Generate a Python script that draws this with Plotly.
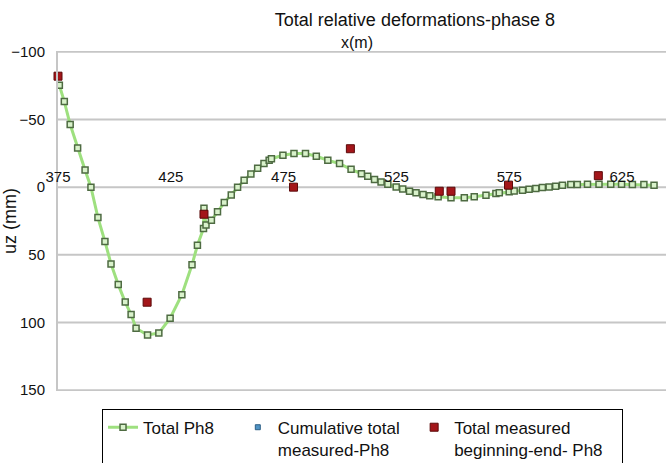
import plotly.graph_objects as go

# ---- data ----
total_x = [375.6, 377.8, 380.4, 383.7, 387.0, 389.6, 392.7, 395.8, 398.5, 401.7,
           404.8, 407.4, 409.6, 414.7, 419.7, 424.7, 429.9, 434.4, 436.8, 439.5,
           439.7, 440.6, 443.0, 445.7, 448.7, 451.8, 454.6, 457.5, 460.5, 463.5,
           466.3, 468.6, 469.6, 474.7, 479.6, 484.7, 489.5, 494.6, 499.8, 504.9,
           509.5, 512.3, 515.3, 518.2, 521.2, 524.9, 527.8, 530.8, 533.7, 536.8,
           539.8, 543.5, 549.2, 555.1, 559.5, 564.7, 569.1, 570.6, 575.0, 577.2,
           580.9, 583.8, 586.8, 589.7, 592.7, 595.6, 598.6, 602.3, 605.2, 609.7,
           614.8, 620.0, 624.8, 629.6, 634.7, 639.2]
total_y = [-75.3, -63.2, -46.3, -28.9, -12.7, 0.0, 22.5, 40.1, 56.7, 72.0,
           84.9, 94.1, 104.3, 109.2, 107.8, 96.8, 79.4, 57.4, 42.9, 30.5,
           15.5, 28.0, 24.5, 18.2, 11.4, 5.7, 0.0, -5.1, -9.8, -14.0,
           -17.5, -19.9, -21.0, -23.6, -24.8, -24.8, -22.8, -19.9, -17.4, -13.2,
           -10.0, -8.1, -5.6, -3.9, -2.2, -0.2, 1.3, 3.0, 4.2, 5.5,
           6.4, 7.1, 7.8, 7.8, 7.1, 5.9, 4.6, 4.2, 3.4, 2.9,
           2.2, 1.5, 1.0, 0.2, -0.2, -0.7, -1.5, -2.0, -2.0, -2.2,
           -2.2, -2.2, -2.2, -2.0, -2.0, -1.5]

cumul_x = [439.7, 504.9]
cumul_y = [15.5, -13.2]

meas_x = [375.0, 414.5, 439.7, 479.4, 504.6, 544.0, 549.2, 574.7, 614.5]
meas_y = [-82.0, 85.0, 20.0, 0.0, -28.4, 3.0, 3.0, -1.5, -8.5]

x_ticks = [375, 425, 475, 525, 575, 625]
y_ticks = [-100, -50, 0, 50, 100, 150]
x_range = [375, 644.5]
y_range = [150.6, -100.6]

NB = "\u00a0"
FONT = "Liberation Sans, Arial, sans-serif"
GRID = "#c6c6c6"

fig = go.Figure()

fig.add_trace(go.Scatter(
    x=cumul_x, y=cumul_y, mode="markers",
    name="Cumulative total" + NB * 2 + "<br>measured-Ph8",
    marker=dict(symbol="square", size=5, color="#4f93c4",
                line=dict(color="#2d5f86", width=1)),
    legendrank=2))

fig.add_trace(go.Scatter(
    x=total_x, y=total_y, mode="lines+markers", name="Total Ph8" + NB * 4,
    line=dict(color="#9ee07f", width=3),
    marker=dict(symbol="square", size=6, color="#d9f2cb",
                line=dict(color="#4e6b42", width=1.5)),
    legendrank=1))

fig.add_trace(go.Scatter(
    x=meas_x, y=meas_y, mode="markers",
    name="Total measured<br>beginning-end- Ph8" + NB * 3,
    marker=dict(symbol="square", size=8, color="#a3161a",
                line=dict(color="#5c0a0a", width=1)),
    cliponaxis=False, legendrank=3))

# horizontal gridlines at the y tick values
grid_shapes = [dict(type="line", xref="paper", x0=0, x1=1, yref="y", y0=v, y1=v,
                    line=dict(color=GRID, width=2), layer="below")
               for v in y_ticks]

fig.update_layout(
    width=666, height=463,
    margin=dict(l=58, r=0, t=51, b=72, autoexpand=False),
    paper_bgcolor="white", plot_bgcolor="white",
    font=dict(family=FONT, size=15, color="#111111"),
    title=dict(text="Total relative deformations-phase 8", x=0.623, xanchor="center",
               y=0.957, yanchor="middle", font=dict(size=18, family=FONT)),
    xaxis=dict(range=x_range, tickvals=x_ticks, anchor="free", position=0.605,
               side="top", showgrid=False, showline=False, zeroline=False,
               ticks="", tickfont=dict(size=15)),
    yaxis=dict(range=y_range, tickvals=y_ticks, showgrid=False, zeroline=False,
               showline=True, linecolor=GRID, linewidth=2,
               ticks="outside", ticklen=8, tickcolor="rgba(0,0,0,0)",
               tickfont=dict(size=15),
               title=dict(text="uz (mm)", font=dict(size=18), standoff=3)),
    legend=dict(orientation="h", x=0.0724, xanchor="left", y=-0.052, yanchor="top",
                bordercolor="black", borderwidth=1, font=dict(size=17),
                valign="top", traceorder="normal"),
    shapes=grid_shapes,
    annotations=[dict(text="x(m)", xref="paper", yref="paper", x=0.492, y=1.026,
                      xanchor="center", yanchor="middle", showarrow=False,
                      font=dict(size=16, family=FONT))],
)

fig.write_html("out.html")
